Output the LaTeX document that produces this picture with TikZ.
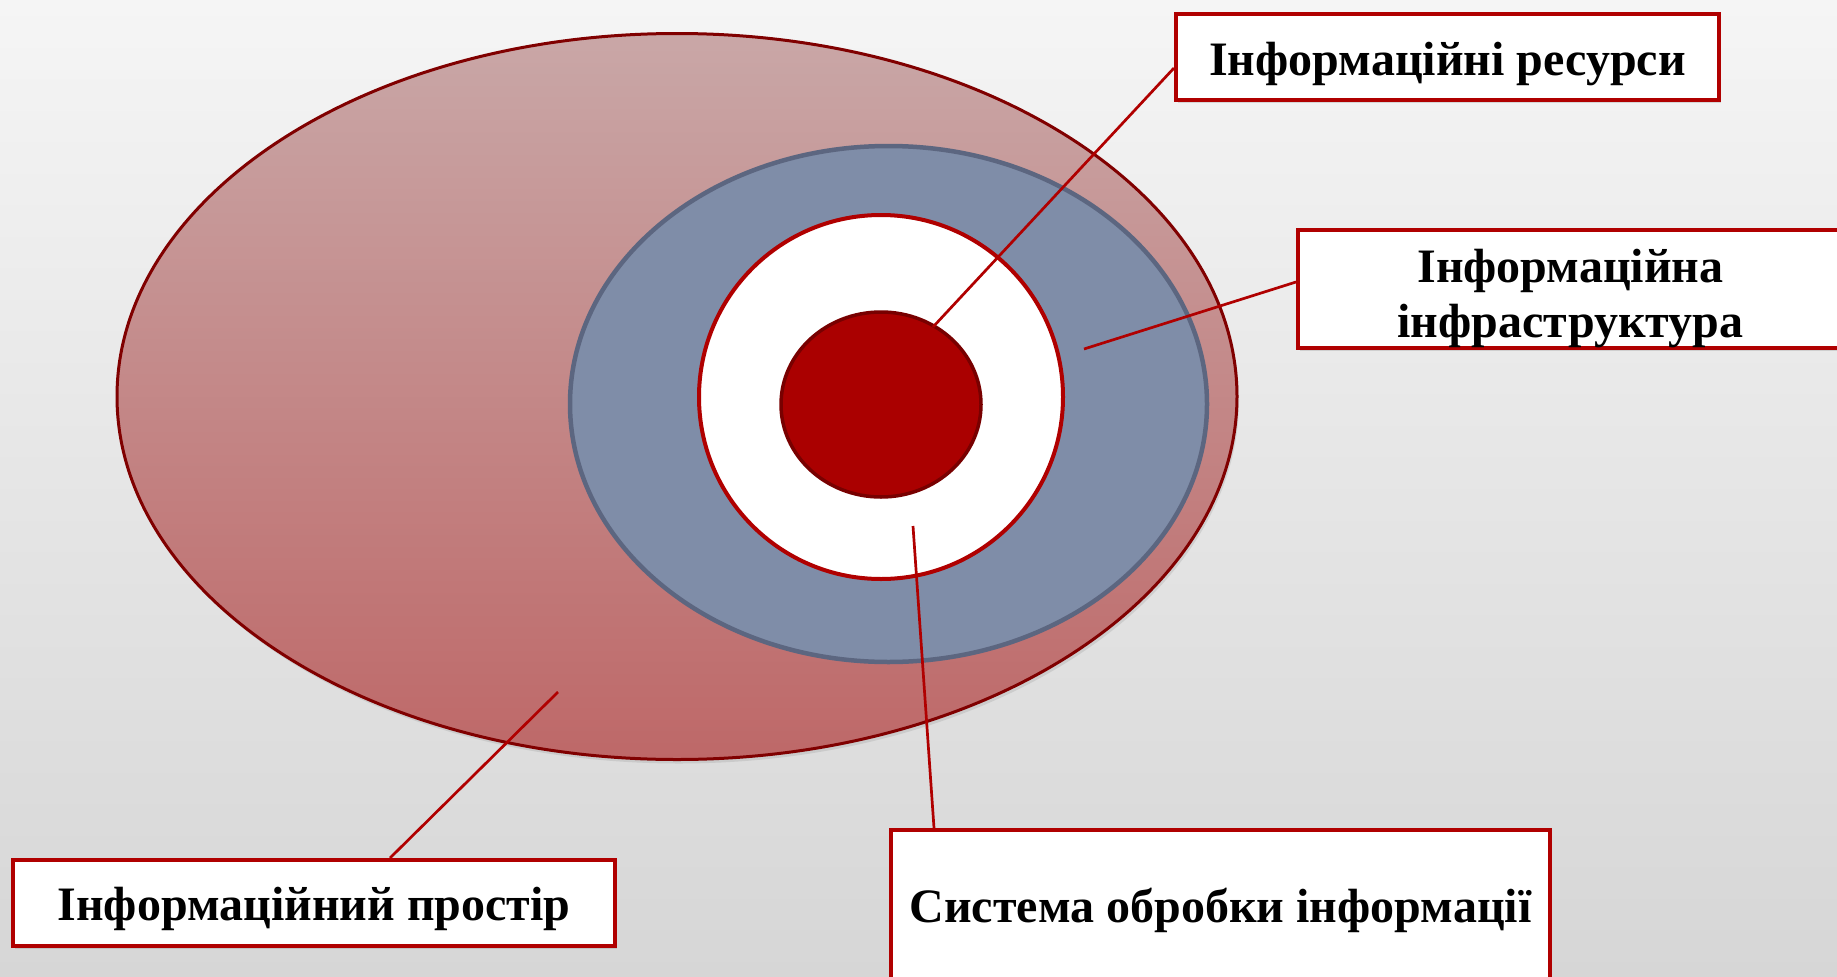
\documentclass[tikz,border=0pt]{standalone}
\usepackage{fontspec}
\setmainfont{Liberation Serif}
\usetikzlibrary{shapes.geometric,shadows}
\definecolor{bgtop}{RGB}{245,245,245}
\definecolor{bgbot}{RGB}{214,214,214}
\definecolor{elltop}{RGB}{201,167,167}
\definecolor{ellbot}{RGB}{190,104,104}
\definecolor{ellborder}{RGB}{128,0,0}
\definecolor{bluefill}{RGB}{127,141,168}
\definecolor{blueborder}{RGB}{92,102,128}
\definecolor{ringred}{RGB}{176,0,0}
\definecolor{corefill}{RGB}{170,0,0}
\definecolor{coreborder}{RGB}{120,0,0}
\definecolor{linered}{RGB}{176,0,0}
\definecolor{boxred}{RGB}{176,0,0}
\begin{document}
\begin{tikzpicture}[x=1pt,y=1pt,
  labelbox/.style={draw=boxred, line width=4pt, fill=white, inner sep=0pt,
    font=\fontsize{48}{55}\selectfont\bfseries,
    drop shadow={opacity=0.25, shadow xshift=2pt, shadow yshift=-3pt}},
  conn/.style={draw=linered, line width=2.7pt},
  ring/.style={ellipse, inner sep=0pt}]
\useasboundingbox (0,0) rectangle (1837,-977);
\shade[top color=bgtop, bottom color=bgbot] (0,0) rectangle (1837,-977);

% ellipses
\node[ring, draw=ellborder, line width=3pt, top color=elltop, bottom color=ellbot,
  minimum width=1120pt, minimum height=726pt,
  drop shadow={opacity=0.2, shadow xshift=2pt, shadow yshift=-4pt}] (spaceE) at (677,-396.5) {};
\node[ring, draw=blueborder, line width=4.5pt, fill=bluefill,
  minimum width=637pt, minimum height=516pt] (infraE) at (888.5,-404) {};
\node[ring, draw=ringred, line width=4pt, fill=white,
  minimum width=364pt, minimum height=364pt] (sysE) at (881,-397) {};
\node[ring, draw=coreborder, line width=3.5pt, fill=corefill,
  minimum width=200pt, minimum height=185pt] (resE) at (881,-404.5) {};

% connector end points inside the rings
\coordinate (resEnd) at (933,-327);
\coordinate (infraEnd) at (1084,-349);
\coordinate (spaceEnd) at (558,-692);
\coordinate (sysEnd) at (913,-526);

% label boxes
\node[labelbox, minimum width=543pt, minimum height=86pt] (res) at (1447.5,-57)
  {\raisebox{0pt}[36pt][0pt]{Інформаційні ресурси}};
\node[labelbox, minimum width=545pt, minimum height=118pt] (infra) at (1570.5,-289)
  {\raisebox{0pt}[20pt][34pt]{\begin{tabular}[t]{@{}c@{}}Інформаційна\\інфраструктура\end{tabular}}};
\node[labelbox, minimum width=602pt, minimum height=86pt] (space) at (314,-903)
  {\raisebox{0pt}[34pt][0pt]{Інформаційний простір}};
\node[labelbox, minimum width=659pt, minimum height=152pt] (sys) at (1220.5,-906)
  {\raisebox{0pt}[32pt][0pt]{Система обробки інформації}};

% connectors
\draw[conn] ([yshift=-11pt]res.west) -- (resEnd);
\draw[conn] ([yshift=7pt]infra.west) -- (infraEnd);
\draw[conn] ([xshift=76pt]space.north) -- (spaceEnd);
\draw[conn] ([xshift=-286.5pt]sys.north) -- (sysEnd);
\end{tikzpicture}
\end{document}
